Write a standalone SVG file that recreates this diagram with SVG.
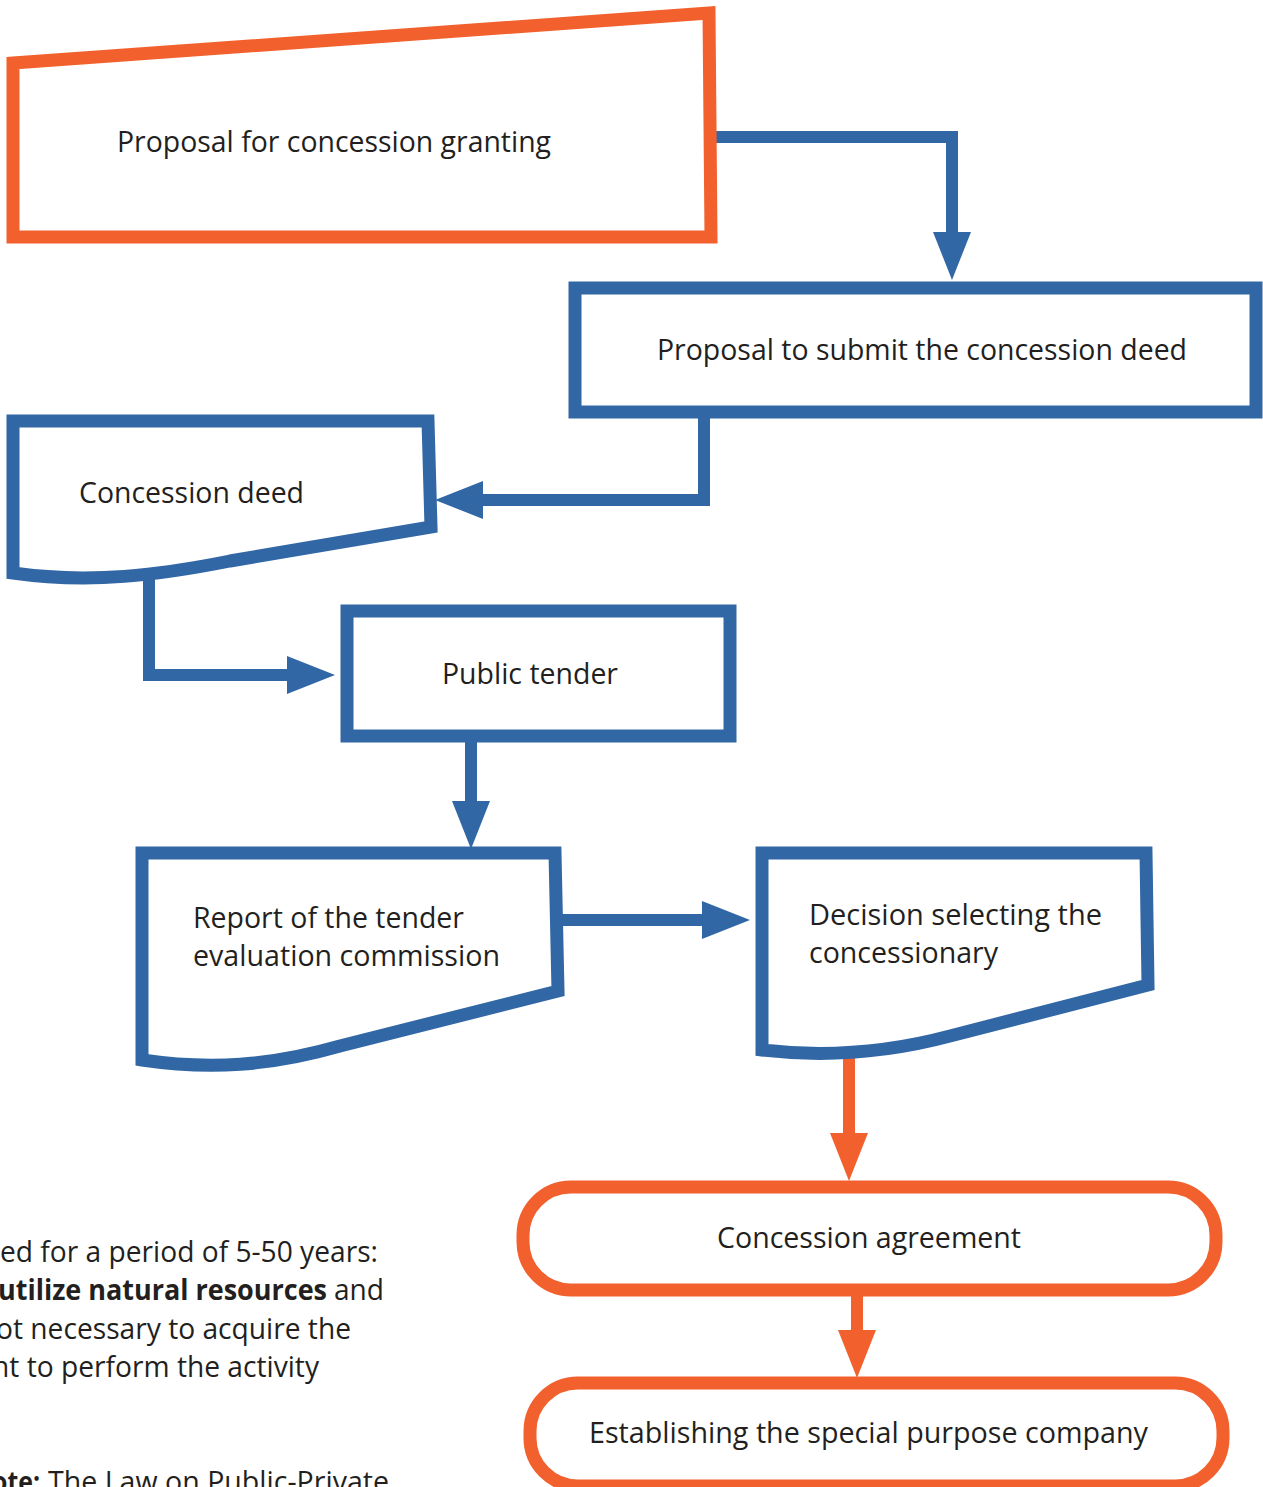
<svg xmlns="http://www.w3.org/2000/svg" width="1263" height="1487" viewBox="0 0 1263 1487">
<defs>
<style>
.bl{fill:#fff;stroke:#3267A6;stroke-width:13;stroke-linejoin:miter}
.or{fill:#fff;stroke:#F2612D;stroke-width:13;stroke-linejoin:miter}
.cb{fill:none;stroke:#3267A6;stroke-width:12;stroke-linejoin:miter}
.co{fill:none;stroke:#F2612D;stroke-width:12;stroke-linejoin:miter}
text{font-family:"Open Sans","Noto Sans",sans-serif;font-size:29px;fill:#231F20}
.b{font-weight:bold}
</style>
<marker id="ab" markerUnits="userSpaceOnUse" viewBox="0 0 48 38" markerWidth="48" markerHeight="38" refX="0" refY="19" orient="auto"><path d="M0,0 L48,19 L0,38 Z" fill="#3267A6"/></marker>
<marker id="ao" markerUnits="userSpaceOnUse" viewBox="0 0 48 38" markerWidth="48" markerHeight="38" refX="0" refY="19" orient="auto"><path d="M0,0 L48,19 L0,38 Z" fill="#F2612D"/></marker>
</defs>
<rect width="1263" height="1487" fill="#fff"/>

<g id="connectors">
<path class="cb" d="M711,137 H952 V232" marker-end="url(#ab)"/>
<path class="cb" d="M704,412 V500 H483" marker-end="url(#ab)"/>
<path class="cb" d="M149,578 V675 H287" marker-end="url(#ab)"/>
<path class="cb" d="M471,736 V801" marker-end="url(#ab)"/>
<path class="cb" d="M559,920 H702" marker-end="url(#ab)"/>
<path class="co" d="M849,1052 V1133" marker-end="url(#ao)"/>
<path class="co" d="M857,1290 V1330" marker-end="url(#ao)"/>
</g>

<g id="n1">
<path class="or" d="M13,63 L709,13 L711,237 L13,237 Z"/>
<text x="117" y="152" textLength="434" lengthAdjust="spacingAndGlyphs">Proposal for concession granting</text>
</g>

<g id="n2">
<rect class="bl" x="575" y="288" width="681" height="124"/>
<text x="657" y="360" textLength="530" lengthAdjust="spacingAndGlyphs">Proposal to submit the concession deed</text>
</g>

<g id="n3">
<path class="bl" d="M13,421 H428 L431,527 L230,561 C160,575 90,584 13,573 Z"/>
<text x="79" y="503" textLength="225" lengthAdjust="spacingAndGlyphs">Concession deed</text>
</g>

<g id="n4">
<rect class="bl" x="347" y="611" width="383" height="125"/>
<text x="442" y="684" textLength="176" lengthAdjust="spacingAndGlyphs">Public tender</text>
</g>

<g id="n5">
<path class="bl" d="M142,853 H555 L558,991 L340,1046 C270,1066 210,1070 142,1060 Z"/>
<text x="193" y="928" textLength="271" lengthAdjust="spacingAndGlyphs">Report of the tender</text>
<text x="193" y="966" textLength="307" lengthAdjust="spacingAndGlyphs">evaluation commission</text>
</g>

<g id="n6">
<path class="bl" d="M762,853 H1146 L1148,985 L950,1036 C890,1052 830,1058 762,1050 Z"/>
<text x="809" y="925" textLength="293" lengthAdjust="spacingAndGlyphs">Decision selecting the</text>
<text x="809" y="963" textLength="189" lengthAdjust="spacingAndGlyphs">concessionary</text>
</g>

<g id="n7">
<rect class="or" x="523" y="1187" width="693" height="103" rx="48" ry="48"/>
<text x="717" y="1248" textLength="304" lengthAdjust="spacingAndGlyphs">Concession agreement</text>
</g>

<g id="n8">
<rect class="or" x="530" y="1383" width="693" height="103" rx="48" ry="48"/>
<text x="589" y="1443" textLength="559" lengthAdjust="spacingAndGlyphs">Establishing the special purpose company</text>
</g>

<g id="note">
<text x="0" y="1262" textLength="378" lengthAdjust="spacingAndGlyphs">ed for a period of 5-50 years:</text>
<text class="b" x="-2" y="1300" textLength="329" lengthAdjust="spacingAndGlyphs">utilize natural resources</text>
<text x="334" y="1300" textLength="50" lengthAdjust="spacingAndGlyphs">and</text>
<text x="-4" y="1339" textLength="355" lengthAdjust="spacingAndGlyphs">ot necessary to acquire the</text>
<text x="-8" y="1377" textLength="327" lengthAdjust="spacingAndGlyphs">nt to perform the activity</text>
<text class="b" x="-8" y="1492" textLength="48" lengthAdjust="spacingAndGlyphs">ote:</text>
<text x="48" y="1492" textLength="341" lengthAdjust="spacingAndGlyphs">The Law on Public-Private</text>
</g>
</svg>
